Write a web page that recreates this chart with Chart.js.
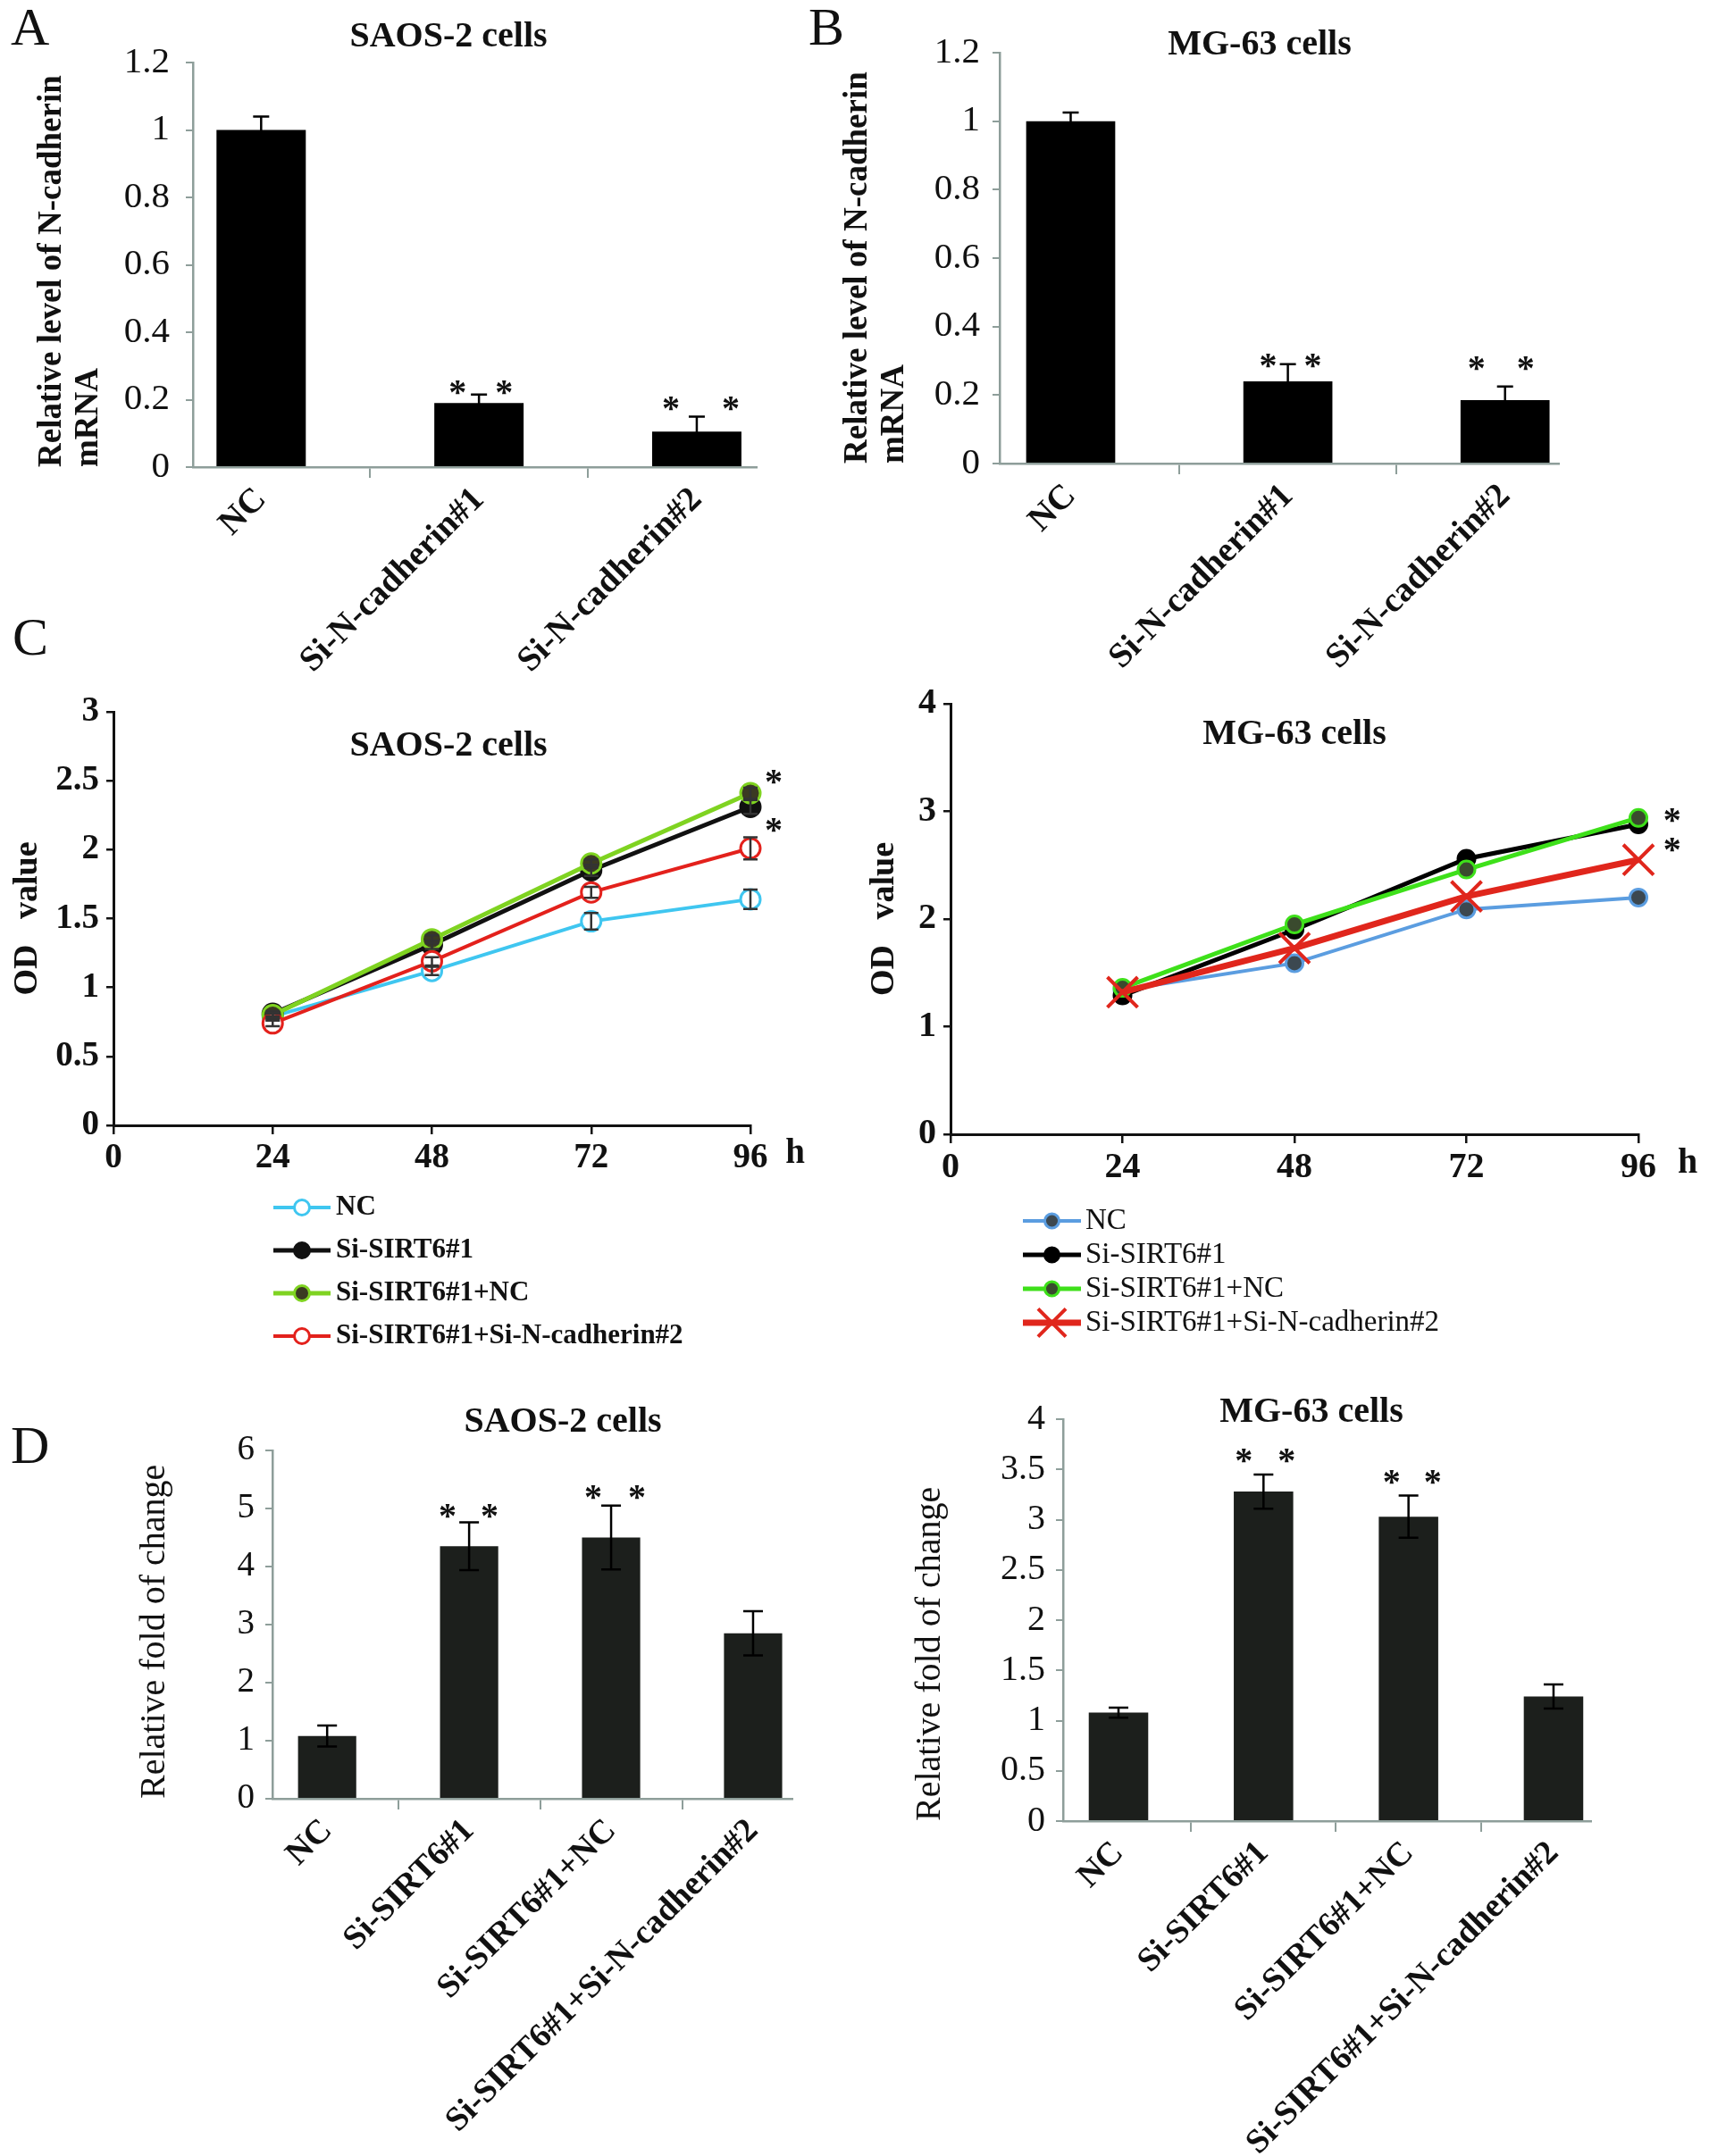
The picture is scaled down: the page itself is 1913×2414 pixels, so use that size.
<!DOCTYPE html>
<html>
<head>
<meta charset="utf-8">
<script src="https://cdn.jsdelivr.net/npm/chart.js@4.4.1/dist/chart.umd.min.js"></script>
<style>
  body { margin: 0; background: #fff; }
  #page { position: relative; width: 1913px; height: 2414px; overflow: hidden; background: #fff; }
  .panel { position: absolute; }
  .letter { position: absolute; font-family: "Liberation Serif", serif; font-size: 60px; line-height: 1; color: #111; }
</style>
</head>
<body>
<div id="page">
  <div class="letter" style="left:12px;top:0px">A</div>
  <div class="letter" style="left:905px;top:0px">B</div>
  <div class="letter" style="left:14px;top:683px">C</div>
  <div class="letter" style="left:12px;top:1588px">D</div>
  <div class="panel" style="left:0;top:0;width:940px;height:760px"><canvas id="chartA"></canvas></div>
  <div class="panel" style="left:900px;top:0;width:1013px;height:760px"><canvas id="chartB"></canvas></div>
  <div class="panel" style="left:0;top:740px;width:960px;height:790px"><canvas id="chartC1"></canvas></div>
  <div class="panel" style="left:960px;top:740px;width:953px;height:790px"><canvas id="chartC2"></canvas></div>
  <div class="panel" style="left:0;top:1540px;width:960px;height:874px"><canvas id="chartD1"></canvas></div>
  <div class="panel" style="left:960px;top:1540px;width:953px;height:874px"><canvas id="chartD2"></canvas></div>
</div>
<script>
// ---- data ----
const knockdownGroups = ['NC', 'Si-N-cadherin#1', 'Si-N-cadherin#2'];
const saosKnockdown = [1.0, 0.19, 0.105];
const saosKnockdownErr = [0.04, 0.025, 0.045];
const mgKnockdown = [1.0, 0.24, 0.185];
const mgKnockdownErr = [0.025, 0.05, 0.04];

const hours = [24, 48, 72, 96];
const curveNames = ['NC', 'Si-SIRT6#1', 'Si-SIRT6#1+NC', 'Si-SIRT6#1+Si-N-cadherin#2'];
const saosNC = [0.79, 1.12, 1.48, 1.64];
const saosNCErr = [0.02, 0.03, 0.06, 0.07];
const saosSirt = [0.81, 1.31, 1.85, 2.31];
const saosSirtErr = [0.02, 0.03, 0.04, 0.05];
const saosSirtNC = [0.80, 1.35, 1.90, 2.41];
const saosSirtNCErr = [0.02, 0.03, 0.03, 0.04];
const saosSirtSiN = [0.74, 1.19, 1.69, 2.01];
const saosSirtSiNErr = [0.02, 0.03, 0.04, 0.08];
const mgNC = [1.34, 1.59, 2.09, 2.20];
const mgSirt = [1.29, 1.90, 2.56, 2.88];
const mgSirtNC = [1.36, 1.95, 2.46, 2.94];
const mgSirtSiN = [1.32, 1.73, 2.21, 2.55];

const rescueGroups = ['NC', 'Si-SIRT6#1', 'Si-SIRT6#1+NC', 'Si-SIRT6#1+Si-N-cadherin#2'];
const saosFold = [1.08, 4.35, 4.50, 2.85];
const saosFoldErr = [0.18, 0.41, 0.55, 0.38];
const mgFold = [1.08, 3.28, 3.03, 1.24];
const mgFoldErr = [0.05, 0.17, 0.21, 0.12];

// ---- drawing ----
const FAMILY = '"Liberation Serif", "Times New Roman", serif';
const AXIS_GREY = '#8e9e9a';
Chart.defaults.font.family = FAMILY;
Chart.defaults.color = '#111';

function pts(ys) {
  return hours.map((h, i) => ({ x: h, y: ys[i] }));
}

function marker(ctx, style, r, x, y) {
  ctx.beginPath();
  if (style === 'crossRot') {
    const d = r * 0.7071;
    ctx.moveTo(x - d, y - d); ctx.lineTo(x + d, y + d);
    ctx.moveTo(x - d, y + d); ctx.lineTo(x + d, y - d);
    ctx.stroke();
  } else {
    ctx.arc(x, y, r, 0, Math.PI * 2);
    ctx.fill();
    ctx.stroke();
  }
}

// error bars, asterisks, panel titles, "h" unit and the line legend
function decor(cfg) {
  return {
    id: 'decor',
    afterDatasetsDraw(chart) {
      const ctx = chart.ctx, ys = chart.scales.y;
      ctx.save();
      chart.data.datasets.forEach((ds, di) => {
        if (!ds.errorBars) return;
        chart.getDatasetMeta(di).data.forEach((el, i) => {
          const e = ds.errorBars[i];
          if (!e) return;
          const v = ds.data[i].y;
          const top = ys.getPixelForValue(v + e), bot = ys.getPixelForValue(v - e);
          const c = cfg.capHalf;
          ctx.strokeStyle = ds.errorColor || '#000';
          ctx.lineWidth = cfg.errWidth;
          ctx.beginPath();
          ctx.moveTo(el.x, top); ctx.lineTo(el.x, bot);
          ctx.moveTo(el.x - c, top); ctx.lineTo(el.x + c, top);
          ctx.moveTo(el.x - c, bot); ctx.lineTo(el.x + c, bot);
          ctx.stroke();
        });
      });
      ctx.restore();
    },
    afterDraw(chart) {
      const ctx = chart.ctx, xs = chart.scales.x, ys = chart.scales.y;
      ctx.save();
      ctx.fillStyle = '#111';
      ctx.textAlign = 'center';
      ctx.textBaseline = 'middle';
      ctx.font = 'bold ' + cfg.titleSize + 'px ' + FAMILY;
      ctx.fillText(cfg.title, cfg.titleX, cfg.titleY);

      ctx.font = 'bold ' + cfg.starSize + 'px ' + FAMILY;
      ctx.textBaseline = 'alphabetic';
      cfg.stars.forEach(s => {
        (s.dx || [0]).forEach(dx => {
          ctx.fillText('*', xs.getPixelForValue(s.at) + dx, ys.getPixelForValue(s.v) + cfg.starSize * 0.45);
        });
      });

      if (cfg.unit) {
        ctx.textBaseline = 'middle';
        ctx.font = 'bold ' + cfg.unit.size + 'px ' + FAMILY;
        ctx.fillText('h', xs.getPixelForValue(96) + cfg.unit.dx, chart.chartArea.bottom + cfg.unit.dy);
      }

      if (cfg.legend) {
        const L = cfg.legend;
        ctx.font = L.font;
        ctx.textAlign = 'left';
        ctx.textBaseline = 'middle';
        chart.data.datasets.forEach((ds, i) => {
          const y = L.y + i * L.gap;
          ctx.strokeStyle = ds.borderColor;
          ctx.lineWidth = ds.borderWidth;
          ctx.beginPath(); ctx.moveTo(L.x, y); ctx.lineTo(L.x + L.len, y); ctx.stroke();
          ctx.fillStyle = ds.pointBackgroundColor;
          ctx.strokeStyle = ds.pointBorderColor;
          ctx.lineWidth = ds.pointBorderWidth;
          marker(ctx, ds.pointStyle, ds.pointStyle === 'crossRot' ? L.cross : L.radius, L.x + L.len / 2, y);
          ctx.fillStyle = '#111';
          ctx.fillText(ds.label, L.x + L.len + L.pad, y);
        });
      }
      ctx.restore();
    }
  };
}

// bars sit on a linear index axis so the axis ends can be as tight as in the figure
function barChart(id, p) {
  new Chart(document.getElementById(id), {
    type: 'bar',
    data: {
      datasets: [{
        data: p.values.map((v, i) => ({ x: i, y: v })),
        errorBars: p.errors,
        backgroundColor: p.color,
        borderWidth: 0,
        categoryPercentage: 1,
        barPercentage: 0.41
      }]
    },
    options: {
      responsive: true,
      maintainAspectRatio: false,
      animation: false,
      devicePixelRatio: 1,
      layout: { autoPadding: false, padding: { top: p.plot.t, right: p.right, left: 0, bottom: 0 } },
      plugins: { legend: { display: false }, tooltip: { enabled: false } },
      scales: {
        x: {
          type: 'linear', min: p.xMin, max: p.xMax, offset: false,
          afterBuildTicks: s => { s.ticks = p.labels.map((_, i) => ({ value: i })); },
          afterFit: s => { s.height = p.h - p.plot.b; },
          grid: { display: true, drawOnChartArea: false, tickLength: 12, color: AXIS_GREY, lineWidth: 2, offset: true },
          border: { display: true, color: AXIS_GREY, width: 2.5 },
          ticks: { autoSkip: false, maxRotation: 45, minRotation: 45, padding: 2, color: '#111',
                   font: { size: p.xFont, weight: 'bold' }, callback: v => p.labels[v] }
        },
        y: {
          min: 0, max: p.max,
          afterFit: s => { s.width = p.plot.l; },
          grid: { display: true, drawOnChartArea: false, tickLength: 8, color: AXIS_GREY, lineWidth: 2 },
          border: { display: true, color: AXIS_GREY, width: 2.5 },
          ticks: { stepSize: p.step, padding: p.yPad, color: '#111', font: { size: p.yFont },
                   callback: v => String(+v.toFixed(1)) },
          title: { display: true, text: p.yTitle, color: '#111', align: 'start',
                   font: { size: p.yTitleSize, weight: p.yTitleWeight, lineHeight: 1.1 },
                   padding: { top: p.yTitlePad, bottom: 0 } }
        }
      }
    },
    plugins: [decor(p.decor)]
  });
}

function lineChart(id, p) {
  new Chart(document.getElementById(id), {
    type: 'line',
    data: { datasets: p.datasets },
    options: {
      responsive: true,
      maintainAspectRatio: false,
      animation: false,
      devicePixelRatio: 1,
      layout: { autoPadding: false, padding: { top: p.plot.t, right: p.right, left: 0, bottom: 0 } },
      plugins: { legend: { display: false }, tooltip: { enabled: false } },
      scales: {
        x: {
          type: 'linear', min: 0, max: 96,
          afterFit: s => { s.height = p.h - p.plot.b; },
          grid: { display: true, drawOnChartArea: false, tickLength: 10, color: '#111', lineWidth: 2.5 },
          border: { display: true, color: '#111', width: 3 },
          ticks: { stepSize: 24, padding: 4, color: '#111', font: { size: p.tickFont, weight: 'bold' } }
        },
        y: {
          min: 0, max: p.max,
          afterFit: s => { s.width = p.plot.l; },
          grid: { display: true, drawOnChartArea: false, tickLength: 8, color: '#111', lineWidth: 2.5 },
          border: { display: true, color: '#111', width: 3 },
          ticks: { stepSize: p.step, padding: 8, color: '#111', font: { size: p.tickFont, weight: 'bold' },
                   callback: v => String(+v.toFixed(1)) },
          title: { display: true, text: 'OD   value', color: '#111',
                   font: { size: 38, weight: 'bold', lineHeight: 1 }, padding: { top: p.yTitlePad, bottom: 0 } }
        }
      }
    },
    plugins: [decor(p.decor)]
  });
}

function curve(label, ys, errs, line, width, fill, edge, style, radius, order) {
  return {
    label: label, data: pts(ys), errorBars: errs, errorColor: '#333',
    borderColor: line, borderWidth: width,
    pointStyle: style, pointRadius: radius, pointBackgroundColor: fill,
    pointBorderColor: edge, pointBorderWidth: style === 'crossRot' ? 4 : 3,
    tension: 0, order: order, clip: false
  };
}

// A
barChart('chartA', {
  labels: knockdownGroups, values: saosKnockdown, errors: saosKnockdownErr,
  color: '#000', max: 1.2, step: 0.2, xMin: -0.313, xMax: 2.275,
  h: 760, right: 93, plot: { l: 216, t: 70, b: 523 },
  xFont: 39, yFont: 41, yPad: 18,
  yTitle: ['Relative level of N-cadherin', 'mRNA'],
  yTitleSize: 37, yTitleWeight: 'bold', yTitlePad: 38,
  decor: { title: 'SAOS-2 cells', titleX: 502, titleY: 42, titleSize: 40, starSize: 40,
           capHalf: 9, errWidth: 2.5,
           stars: [{ at: 1, v: 0.237, dx: [-24, 28] }, { at: 2, v: 0.188, dx: [-29, 38] }] }
});

// B
barChart('chartB', {
  labels: knockdownGroups, values: mgKnockdown, errors: mgKnockdownErr,
  color: '#000', max: 1.2, step: 0.2, xMin: -0.327, xMax: 2.248,
  h: 760, right: 168, plot: { l: 219, t: 59, b: 519 },
  xFont: 39, yFont: 41, yPad: 14,
  yTitle: ['Relative level of N-cadherin', 'mRNA'],
  yTitleSize: 37, yTitleWeight: 'bold', yTitlePad: 40,
  decor: { title: 'MG-63 cells', titleX: 510, titleY: 51, titleSize: 40, starSize: 40,
           capHalf: 9, errWidth: 2.5,
           stars: [{ at: 1, v: 0.30, dx: [-22, 28] }, { at: 2, v: 0.293, dx: [-32, 23] }] }
});

// C left
lineChart('chartC1', {
  h: 790, right: 120, plot: { l: 127, t: 57, b: 520 }, max: 3, step: 0.5, tickFont: 39, yTitlePad: 12,
  datasets: [
    curve(curveNames[0], saosNC, saosNCErr, '#3fc6f0', 4, '#ffffff', '#3fc6f0', 'circle', 11, 3),
    curve(curveNames[1], saosSirt, saosSirtErr, '#111111', 5, '#111111', '#111111', 'circle', 11, 2),
    curve(curveNames[2], saosSirtNC, saosSirtNCErr, '#7fd321', 5, '#3b3a22', '#7fd321', 'circle', 11, 1),
    curve(curveNames[3], saosSirtSiN, saosSirtSiNErr, '#e3211c', 4, '#ffffff', '#e3211c', 'circle', 11, 0)
  ],
  decor: { title: 'SAOS-2 cells', titleX: 502, titleY: 96, titleSize: 40, starSize: 40,
           capHalf: 8, errWidth: 2.5,
           stars: [{ at: 99.5, v: 2.53 }, { at: 99.5, v: 2.18 }],
           unit: { size: 39, dx: 50, dy: 32 },
           legend: { x: 306, y: 612, gap: 48, len: 64, pad: 6, radius: 8.5, font: 'bold 31px ' + FAMILY } }
});

// C right
lineChart('chartC2', {
  h: 790, right: 79, plot: { l: 104, t: 48, b: 530 }, max: 4, step: 1, tickFont: 40, yTitlePad: 11,
  datasets: [
    curve(curveNames[0], mgNC, null, '#5b9de0', 4, '#3c4850', '#5b9de0', 'circle', 9.5, 3),
    curve(curveNames[1], mgSirt, null, '#000000', 5, '#000000', '#000000', 'circle', 9.5, 2),
    curve(curveNames[2], mgSirtNC, null, '#3ee01a', 5, '#3a4a2e', '#3ee01a', 'circle', 9.5, 1),
    curve(curveNames[3], mgSirtSiN, null, '#e0261c', 7, '#e0261c', '#e0261c', 'crossRot', 24, 0)
  ],
  decor: { title: 'MG-63 cells', titleX: 489, titleY: 83, titleSize: 40, starSize: 40,
           capHalf: 8, errWidth: 2.5,
           stars: [{ at: 100.7, v: 2.96 }, { at: 100.7, v: 2.69 }],
           unit: { size: 40, dx: 55, dy: 33 },
           legend: { x: 185, y: 627, gap: 38, len: 65, pad: 5, radius: 8, cross: 22, font: '33px ' + FAMILY } }
});

// D left
barChart('chartD1', {
  labels: rescueGroups, values: saosFold, errors: saosFoldErr,
  color: '#1c1f1c', max: 6, step: 1, xMin: -0.385, xMax: 3.277,
  h: 874, right: 73, plot: { l: 305, t: 84, b: 474 },
  xFont: 38, yFont: 39, yPad: 12,
  yTitle: 'Relative fold of change',
  yTitleSize: 40, yTitleWeight: 'normal', yTitlePad: 151,
  decor: { title: 'SAOS-2 cells', titleX: 630, titleY: 53, titleSize: 40, starSize: 40,
           capHalf: 11, errWidth: 2.5,
           stars: [{ at: 1, v: 4.95, dx: [-24, 23] }, { at: 2, v: 5.27, dx: [-20, 29] }] }
});

// D right
barChart('chartD2', {
  labels: rescueGroups, values: mgFold, errors: mgFoldErr,
  color: '#1c1f1c', max: 4, step: 0.5, xMin: -0.382, xMax: 3.259,
  h: 874, right: 132, plot: { l: 230, t: 49, b: 499 },
  xFont: 38, yFont: 40, yPad: 12,
  yTitle: 'Relative fold of change',
  yTitleSize: 40, yTitleWeight: 'normal', yTitlePad: 59,
  decor: { title: 'MG-63 cells', titleX: 508, titleY: 42, titleSize: 40, starSize: 40,
           capHalf: 11, errWidth: 2.5,
           stars: [{ at: 1, v: 3.64, dx: [-22, 26] }, { at: 2, v: 3.42, dx: [-19, 27] }] }
});
</script>
</body>
</html>
